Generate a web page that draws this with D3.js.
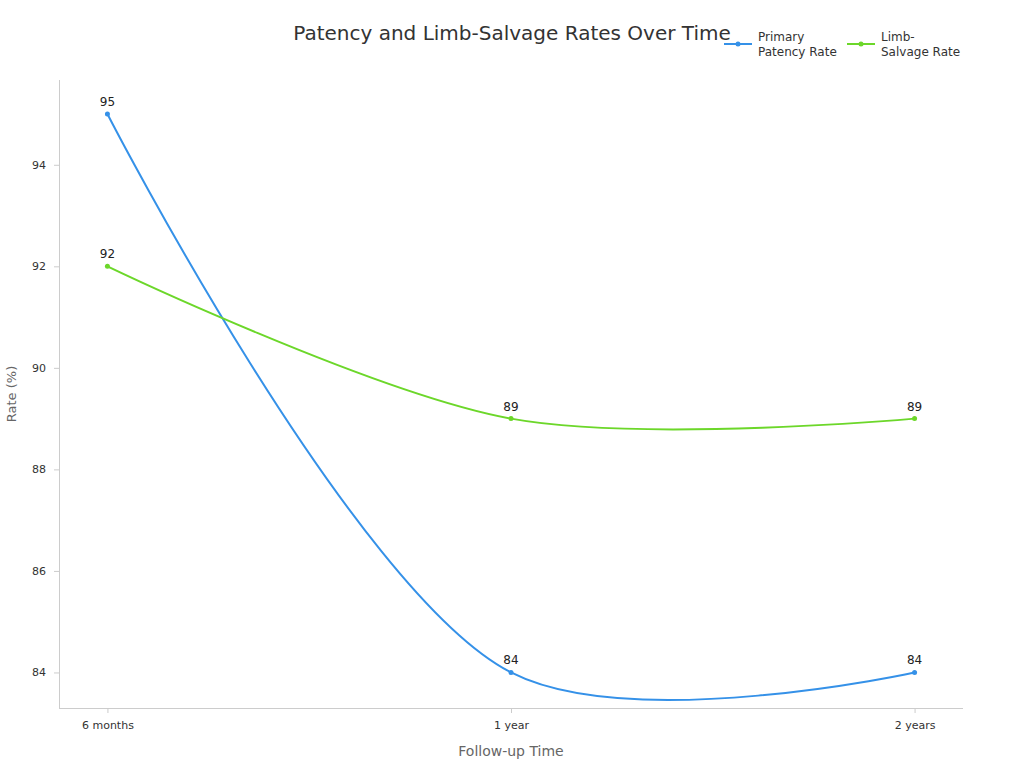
<!DOCTYPE html><html><head><meta charset="utf-8"><script src="https://cdn.jsdelivr.net/npm/d3@7"></script>
<style>body{margin:0;background:#fff}text{font-family:"DejaVu Sans",sans-serif}</style></head><body><svg id="c" width="1024" height="768"></svg>
<script>
const categories=["6 months","1 year","2 years"];
const primary=[95,84,84];
const limb=[92,89,89];
const yTicks=[84,86,88,90,92,94];
const series=[{name:["Primary","Patency Rate"],values:primary,color:"#3591e8"},{name:["Limb-","Salvage Rate"],values:limb,color:"#6cd72a"}];
const svg=d3.select("#c");
const L=59,R=963,T=80,B=708;
const x=d3.scalePoint().domain(categories).range([L,R]).padding(0.12);
const y=d3.scaleLinear().domain([83.3,95.67]).range([B,T]);
svg.append("text").attr("x",512).attr("y",40).attr("text-anchor","middle").attr("font-size",20).attr("fill","#333").text("Patency and Limb-Salvage Rates Over Time");
const ya=svg.append("g").attr("transform",`translate(${L},0)`).call(d3.axisLeft(y).tickValues(yTicks).tickSize(5).tickPadding(8));
const xa=svg.append("g").attr("transform",`translate(0,${B})`).call(d3.axisBottom(x).tickSize(5).tickPadding(8));
[ya,xa].forEach(a=>{a.selectAll("path,line").attr("stroke","#ccc");a.selectAll("text").attr("font-size",11).attr("fill","#333");});
ya.select("path").attr("d",`M0.5,${T}V${B}`);xa.select("path").attr("d",`M${L},0.5H${R}`);
svg.append("text").attr("transform",`translate(16,${(T+B)/2}) rotate(-90)`).attr("text-anchor","middle").attr("font-size",13).attr("fill","#666").text("Rate (%)");
svg.append("text").attr("x",(L+R)/2).attr("y",756).attr("text-anchor","middle").attr("font-size",14).attr("fill","#666").text("Follow-up Time");
const line=d3.line().x((d,i)=>x(categories[i])).y(d=>y(d)).curve(d3.curveCatmullRom.alpha(0.5));
series.forEach(s=>{
 svg.append("path").attr("d",line(s.values)).attr("fill","none").attr("stroke",s.color).attr("stroke-width",2);
 s.values.forEach((v,i)=>{
  svg.append("circle").attr("cx",x(categories[i])).attr("cy",y(v)).attr("r",2.5).attr("fill",s.color);
  svg.append("text").attr("x",x(categories[i])).attr("y",y(v)-8).attr("text-anchor","middle").attr("font-size",12).attr("fill","#222").text(v);
 });
});
const lx=[724,847];
series.forEach((s,i)=>{
 const g=svg.append("g").attr("transform",`translate(${lx[i]},44)`);
 g.append("line").attr("x1",0).attr("x2",28).attr("stroke",s.color).attr("stroke-width",2);
 g.append("circle").attr("cx",14).attr("r",2.5).attr("fill",s.color);
 s.name.forEach((t,j)=>g.append("text").attr("x",34).attr("y",-3+j*15).attr("font-size",12).attr("fill","#333").text(t));
});
</script></body></html>
